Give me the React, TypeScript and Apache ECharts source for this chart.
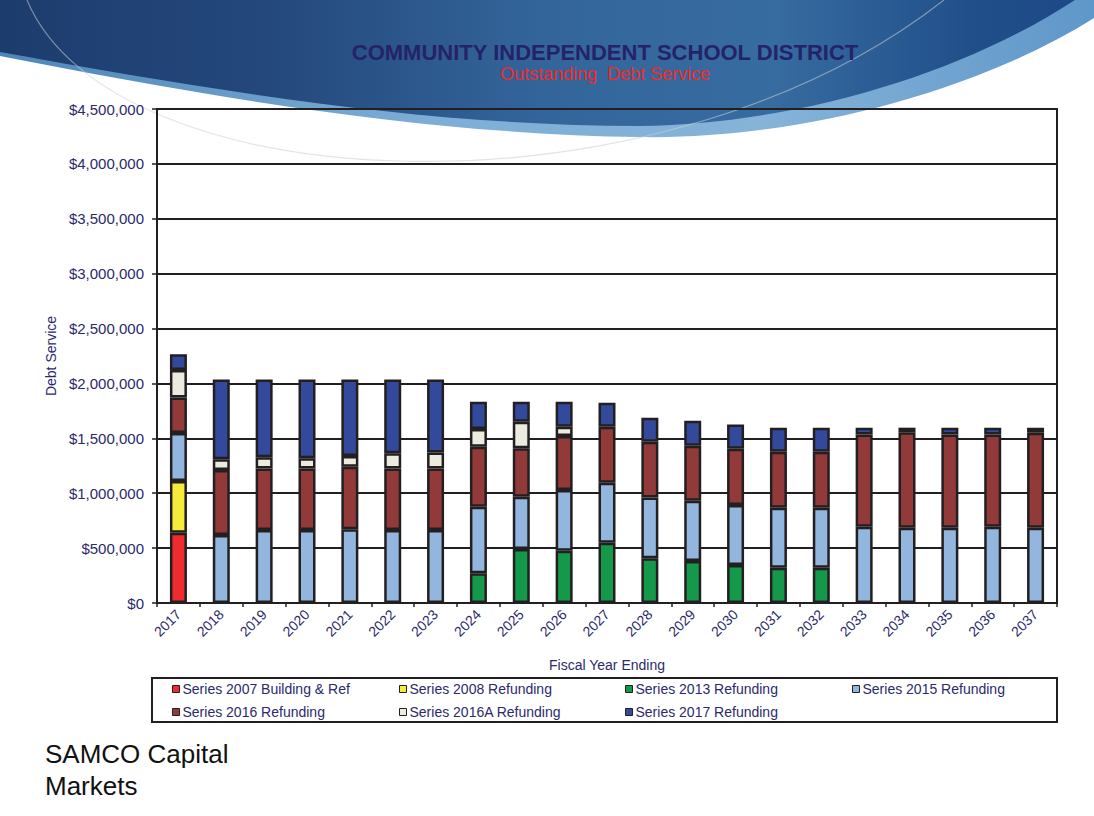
import React, { useEffect, useRef } from "react";
import * as echarts from "echarts";

const categories = ["2017","2018","2019","2020","2021","2022","2023","2024","2025","2026","2027","2028","2029","2030","2031","2032","2033","2034","2035","2036","2037"];
const s2007 = [640000,null,null,null,null,null,null,null,null,null,null,null,null,null,null,null,null,null,null,null,null];
const s2008 = [471000,null,null,null,null,null,null,null,null,null,null,null,null,null,null,null,null,null,null,null,null];
const s2013 = [null,null,null,null,null,null,null,270000,492000,476000,549000,407000,383000,346000,322000,322000,null,null,null,null,null];
const s2015 = [437000,619000,665000,665000,671000,665000,665000,607000,476000,553000,547000,555000,549000,547000,546000,546000,695000,686000,686000,695000,686000];
const s2016 = [325000,592000,561000,561000,571000,561000,561000,547000,441000,492000,510000,507000,501000,512000,510000,510000,841000,869000,850000,841000,865000];
const s2016A = [249000,98000,101000,92000,97000,137000,146000,161000,242000,85000,null,null,null,null,null,null,null,null,null,null,null];
const s2017 = [145000,726000,708000,717000,696000,672000,663000,249000,183000,228000,218000,219000,227000,222000,219000,219000,61000,42000,61000,61000,46000];

const seriesNames = ["Series 2007 Building & Ref","Series 2008 Refunding","Series 2013 Refunding","Series 2015 Refunding","Series 2016 Refunding","Series 2016A Refunding","Series 2017 Refunding"];
const seriesData = [s2007, s2008, s2013, s2015, s2016, s2016A, s2017];
const seriesColors = ["#ee2b2e","#f5eb3b","#14994a","#93b6de","#923a3a","#ecebdf","#33499c"];

const FONT = "'Liberation Sans', Arial, Helvetica, sans-serif";
const NAVY = "#2b2a6c";
const INK = "#231f20";

const swooshLight = "M0 0 L1094 0 L1094 18 C980 90 800 140 640 137 C420 134 200 95 0 56 Z";
const swooshDark = "M0 0 L1075 0 C965 72 800 124 640 126 C420 126 200 88 0 52 Z";

let registered = false;
function registerShapes() {
  if (registered) return;
  echarts.graphic.registerShape("swooshLight", echarts.graphic.extendPath(swooshLight, {}));
  echarts.graphic.registerShape("swooshDark", echarts.graphic.extendPath(swooshDark, {}));
  registered = true;
}

// legend positions: [series index, left, top]
const legendSlots: [number, number, number][] = [
  [0, 172, 682], [1, 399, 682], [2, 625, 682], [3, 852, 682],
  [4, 172, 705], [5, 399, 705], [6, 625, 705],
];

export default function App() {
  const ref = useRef<HTMLDivElement>(null);
  useEffect(() => {
    if (!ref.current) return;
    registerShapes();
    const chart = echarts.init(ref.current, null, { renderer: "svg" });
    const option: any = {
      animation: false,
      backgroundColor: "#ffffff",
      grid: {
        left: 157, top: 109, width: 900, height: 494,
        show: true, borderColor: INK, borderWidth: 2, backgroundColor: "transparent",
      },
      legend: legendSlots.map(([i, left, top]) => ({
        data: [seriesNames[i]],
        left, top,
        padding: 0,
        itemWidth: 7, itemHeight: 7,
        icon: "rect",
        itemStyle: { borderColor: INK, borderWidth: 1 },
        textStyle: { color: NAVY, fontSize: 14, fontFamily: FONT, padding: [0, 0, 0, -2] },
        selectedMode: false,
      })),
      xAxis: {
        type: "category",
        data: categories,
        name: "Fiscal Year Ending",
        nameLocation: "middle",
        nameGap: 55,
        nameTextStyle: { color: NAVY, fontSize: 14, fontFamily: FONT },
        axisLine: { lineStyle: { color: INK, width: 2 } },
        axisTick: { show: true, length: 4, lineStyle: { color: INK, width: 1.5 } },
        axisLabel: { rotate: 45, margin: 9, color: NAVY, fontSize: 14, fontFamily: FONT, interval: 0 },
      },
      yAxis: {
        type: "value",
        min: 0, max: 4500000, interval: 500000,
        name: "Debt Service",
        nameLocation: "middle",
        nameGap: 98,
        nameTextStyle: { color: NAVY, fontSize: 14, fontFamily: FONT },
        axisLine: { show: true, lineStyle: { color: INK, width: 2 } },
        axisTick: { show: true, length: 5, lineStyle: { color: INK, width: 1.5 } },
        splitLine: { lineStyle: { color: INK, width: 2 } },
        axisLabel: {
          margin: 13, color: NAVY, fontSize: 15, fontFamily: FONT,
          formatter: (v: number) => "$" + v.toLocaleString("en-US"),
        },
      },
      series: seriesNames.map((name, i) => ({
        name,
        type: "bar",
        stack: "debt",
        data: seriesData[i],
        barWidth: 17,
        itemStyle: { color: seriesColors[i], borderColor: INK, borderWidth: 2.5 },
      })),
      graphic: [
        {
          type: "swooshLight", x: 0, y: 0, z: -20, silent: true,
          style: {
            fill: {
              type: "linear", x: 0, y: 0, x2: 1, y2: 0,
              colorStops: [
                { offset: 0, color: "#4d86b8" },
                { offset: 0.4, color: "#7eaed6" },
                { offset: 0.7, color: "#86b3d8" },
                { offset: 1, color: "#5e97c9" },
              ],
            },
          },
        },
        {
          type: "swooshDark", x: 0, y: 0, z: -19, silent: true,
          style: {
            fill: {
              type: "linear", x: 0, y: 0, x2: 1, y2: 0,
              colorStops: [
                { offset: 0, color: "#1d3c6e" },
                { offset: 0.25, color: "#24487c" },
                { offset: 0.5, color: "#33659a" },
                { offset: 0.72, color: "#376ca0" },
                { offset: 0.9, color: "#214f8a" },
                { offset: 1, color: "#1d4a86" },
              ],
            },
          },
        },
        {
          type: "bezierCurve", z: -18, silent: true,
          shape: { x1: 27, y1: 0, cpx1: 110, cpy1: 200, cpx2: 650, cpy2: 230, x2: 944, y2: 0 },
          style: { stroke: "rgba(200,205,215,0.55)", lineWidth: 1.2, fill: null },
        },
        {
          type: "text", x: 605, y: 52, z: 10,
          style: {
            text: "COMMUNITY INDEPENDENT SCHOOL DISTRICT",
            fill: "#24236a", fontSize: 22, fontWeight: "bold", fontFamily: FONT,
            textAlign: "center", textVerticalAlign: "middle",
          },
        },
        {
          type: "text", x: 605, y: 74, z: 10,
          style: {
            text: "Outstanding  Debt Service",
            fill: "#ee2a2a", fontSize: 18, fontFamily: FONT,
            textAlign: "center", textVerticalAlign: "middle",
          },
        },
        {
          type: "rect", z: 10, silent: true,
          shape: { x: 152, y: 678, width: 905, height: 44 },
          style: { fill: null, stroke: INK, lineWidth: 2 },
        },
        {
          type: "text", x: 45, y: 754, z: 10,
          style: {
            text: "SAMCO Capital",
            fill: "#111111", fontSize: 26, fontFamily: FONT,
            textAlign: "left", textVerticalAlign: "middle",
          },
        },
        {
          type: "text", x: 45, y: 786, z: 10,
          style: {
            text: "Markets",
            fill: "#111111", fontSize: 26, fontFamily: FONT,
            textAlign: "left", textVerticalAlign: "middle",
          },
        },
      ],
    };
    chart.setOption(option);
    return () => chart.dispose();
  }, []);
  return (
    <div
      ref={ref}
      style={{ position: "fixed", left: 0, top: 0, width: 1094, height: 816 }}
    />
  );
}
